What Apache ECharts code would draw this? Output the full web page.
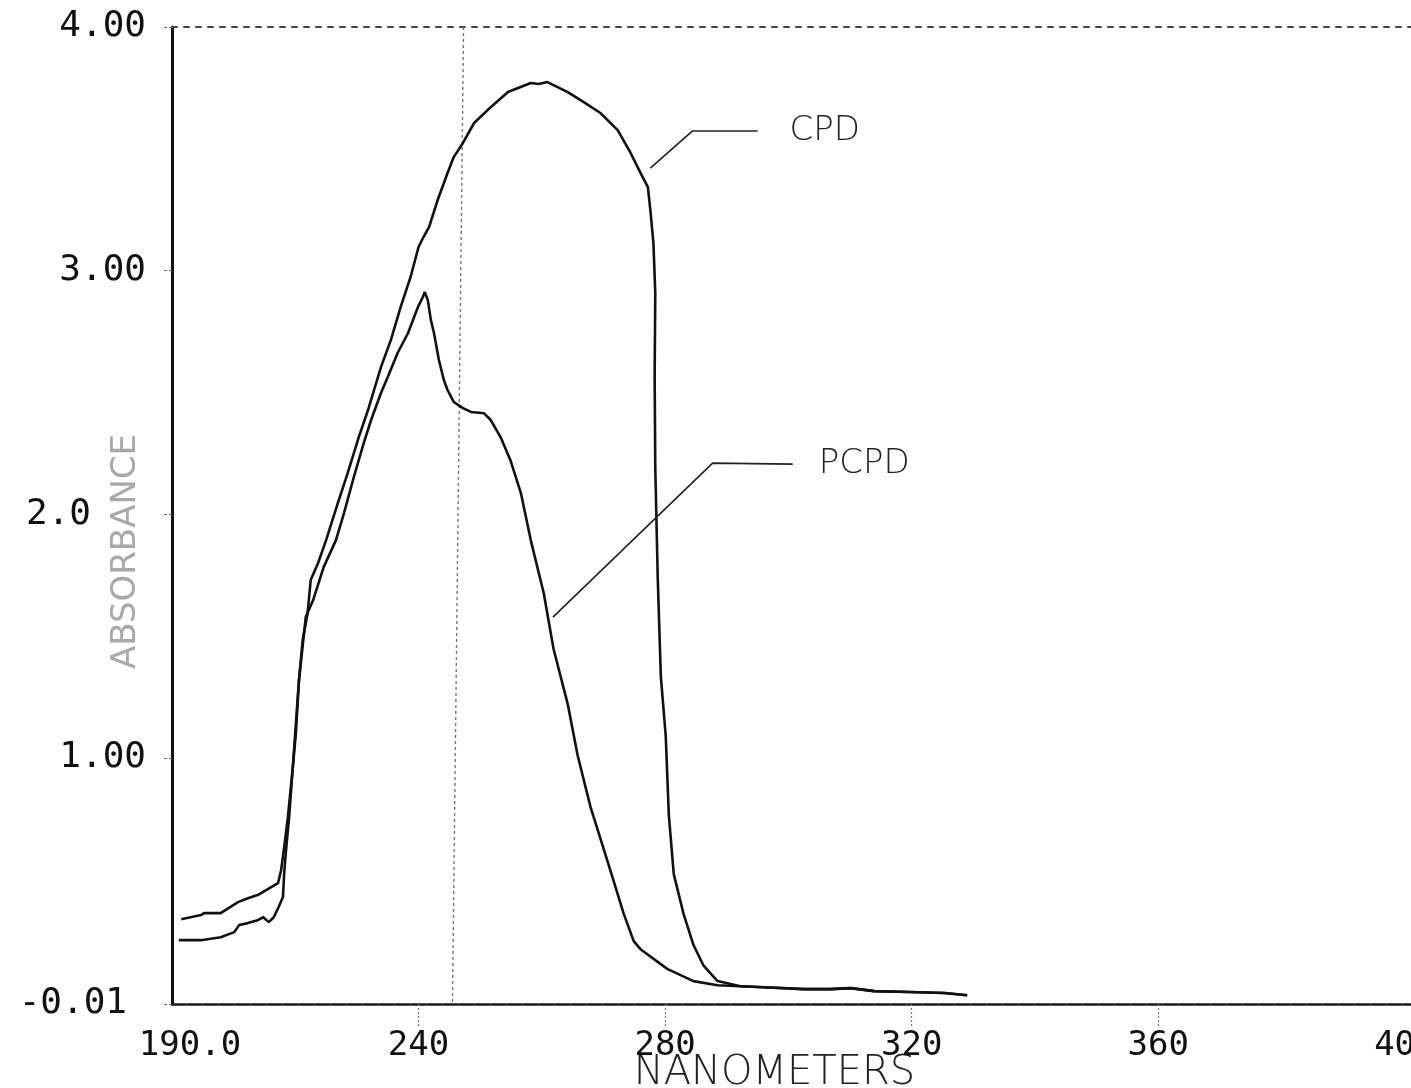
<!DOCTYPE html>
<html>
<head>
<meta charset="utf-8">
<script src="https://cdn.jsdelivr.net/npm/echarts@6/dist/echarts.min.js"></script>
<style>
html,body{margin:0;padding:0;background:#fff;overflow:hidden;}
#c{width:1411px;height:1088px;}
</style>
</head>
<body>
<div id="c"></div>
<script>
// ---- data (wavelength in nm, absorbance) ----
const seriesNames = ['CPD', 'PCPD'];

const cpdNm = [201.5,204.7,205.2,207.9,210.7,212.3,213.9,216.1,217.2,217.7,218.2,218.8,219.6,220.1,220.6,221.2,222.0,222.5,223.7,225.0,226.9,228.5,230.3,231.8,233.9,235.5,237.1,238.7,240.0,240.8,241.7,243.1,244.7,245.7,247.2,249.0,251.2,254.5,258.2,259.5,260.9,264.2,266.8,269.5,272.3,274.4,276.0,277.2,277.6,278.1,278.4,278.3,278.4,278.8,279.3,280.1,280.6,281.4,283.0,284.6,286.2,288.5,292.2,296.0,302.6,306.8,310.1,313.9,319.6,325.3,329.0];
const cpdAbs = [0.338,0.355,0.363,0.363,0.408,0.424,0.437,0.470,0.486,0.539,0.634,0.757,0.962,1.102,1.319,1.484,1.594,1.730,1.800,1.894,2.046,2.169,2.317,2.428,2.604,2.715,2.851,2.974,3.097,3.138,3.179,3.290,3.401,3.466,3.524,3.606,3.659,3.733,3.770,3.766,3.774,3.733,3.692,3.647,3.577,3.483,3.401,3.343,3.249,3.113,2.908,2.563,2.194,1.738,1.336,1.089,0.765,0.523,0.359,0.232,0.149,0.084,0.063,0.059,0.051,0.051,0.055,0.043,0.039,0.035,0.026];

const pcpdNm = [201.1,204.7,207.9,210.1,210.9,212.3,213.9,214.8,215.7,216.5,217.3,218.0,218.2,218.5,219.0,219.6,220.6,221.7,222.9,224.6,226.6,227.9,229.5,231.1,232.3,233.9,235.0,236.6,238.3,239.9,240.7,241.0,241.5,242.0,242.5,243.3,244.1,244.7,245.7,247.2,248.5,250.6,251.7,253.3,254.9,256.6,258.2,260.3,261.9,264.2,265.8,267.9,270.7,273.3,274.9,276.0,280.4,284.6,288.5,292.2,296.0,302.6,306.8,310.1,313.9,319.6,325.3,329.0];
const pcpdAbs = [0.252,0.252,0.264,0.285,0.314,0.322,0.334,0.346,0.326,0.346,0.388,0.429,0.527,0.622,0.757,0.962,1.319,1.578,1.648,1.783,1.894,2.005,2.153,2.292,2.387,2.498,2.563,2.662,2.744,2.851,2.892,2.912,2.879,2.797,2.744,2.633,2.551,2.510,2.461,2.436,2.420,2.415,2.387,2.317,2.222,2.087,1.894,1.677,1.447,1.221,1.011,0.798,0.572,0.359,0.248,0.215,0.133,0.084,0.067,0.063,0.059,0.051,0.051,0.055,0.043,0.039,0.035,0.026];

// annotation leader lines (nm, absorbance)
const cpdLeaderNm = [277.6, 284.4, 295.0];
const cpdLeaderAbs = [3.421, 3.573, 3.573];
const pcpdLeaderNm = [261.8, 287.7, 300.7];
const pcpdLeaderAbs = [1.578, 2.210, 2.206];

// vertical reference line
const refLineNm = [247.3, 245.5];
const refLineAbs = [4.00, -0.01];

// axis ticks / labels
const xTickValues = [200, 240, 280, 320, 360, 400];
const xTickLabels = ['190.0', '240', '280', '320', '360', '400'];
const xTickMarks = [240, 280, 320, 360];
const yTickValues = [-0.01, 1, 2, 3, 4];
const yTickLabels = ['-0.01', '1.00', '2.0', '3.00', '4.00'];

const zip = (a, b) => a.map((v, i) => [v, b[i]]);
const idxOf = (arr, v) => arr.findIndex(t => Math.abs(t - v) < 1e-6);

const monoFont = "'DejaVu Sans Mono', 'Liberation Mono', monospace";
const sansFont = "'DejaVu Sans', 'Noto Sans', sans-serif";

const chart = echarts.init(document.getElementById('c'), null, { renderer: 'canvas' });

chart.setOption({
  animation: false,
  backgroundColor: '#ffffff',
  grid: { left: 172, right: 0, top: 27, bottom: 84, containLabel: false, outerBoundsMode: 'none' },
  xAxis: [
    {
      type: 'value', min: 200, max: 401, position: 'bottom',
      axisLine: { show: true, onZero: false, lineStyle: { color: '#1a1a1a', width: 2.5, type: [14, 2] } },
      axisTick: { show: true, customValues: xTickMarks, length: 22, inside: false,
        lineStyle: { color: '#777', width: 1.2, type: [2, 2] } },
      axisLabel: {
        customValues: xTickValues,
        fontFamily: monoFont, fontSize: 34, color: '#111', margin: 25,
        formatter: function (v) {
          const i = idxOf(xTickValues, v);
          const t = i >= 0 ? xTickLabels[i] : '';
          return i === 0 ? '{first|' + t + '}' : t;
        },
        rich: { first: { fontFamily: monoFont, fontSize: 34, color: '#111', padding: [0, 0, 0, 36] } }
      },
      splitLine: { show: false },
      name: 'NANOMETERS', nameLocation: 'middle', nameGap: 50, nameMoveOverlap: false,
      nameTextStyle: { fontFamily: sansFont, fontSize: 40, color: '#222', fontWeight: 'lighter', padding: [0, 34, 0, 0] }
    },
    {
      type: 'value', min: 200, max: 401, position: 'top',
      axisLine: { show: true, onZero: false, lineStyle: { color: '#444', width: 2, type: [5, 7] } },
      axisTick: { show: false }, axisLabel: { show: false }, splitLine: { show: false }
    }
  ],
  yAxis: {
    type: 'value', min: -0.01, max: 4,
    axisLine: { show: true, onZero: false, lineStyle: { color: '#111', width: 3 } },
    axisTick: { show: true, customValues: yTickValues, length: 8, lineStyle: { color: '#666', width: 1.2, type: [3, 2] } },
    axisLabel: {
      customValues: yTickValues,
      fontFamily: monoFont, fontSize: 36, color: '#111', margin: 26,
      formatter: function (v) {
        const i = idxOf(yTickValues, v);
        if (i < 0) return '';
        const t = yTickLabels[i];
        if (i === 0) return '{low|' + t + '}';
        if (i === 2) return '{mid|' + t + '}';
        return t;
      },
      rich: {
        low: { fontFamily: monoFont, fontSize: 36, color: '#111', padding: [0, 19, 0, 0] },
        mid: { fontFamily: monoFont, fontSize: 36, color: '#111', padding: [0, 55, 0, 0] }
      }
    },
    splitLine: { show: false },
    name: 'ABSORBANCE', nameLocation: 'middle', nameRotate: 90, nameGap: 29, nameMoveOverlap: false,
    nameTextStyle: { fontFamily: sansFont, fontSize: 34, color: '#a8a8a8', padding: [0, 72, 0, 0] }
  },
  series: [
    {
      name: seriesNames[0], type: 'line', xAxisIndex: 0, showSymbol: false, symbol: 'none',
      data: zip(cpdNm, cpdAbs),
      lineStyle: { color: '#111', width: 2.6 }, z: 3
    },
    {
      name: seriesNames[1], type: 'line', xAxisIndex: 0, showSymbol: false, symbol: 'none',
      data: zip(pcpdNm, pcpdAbs),
      lineStyle: { color: '#111', width: 2.6 }, z: 3
    },
    {
      name: seriesNames[0] + ' label', type: 'line', xAxisIndex: 0, symbol: 'none',
      data: zip(cpdLeaderNm, cpdLeaderAbs),
      lineStyle: { color: '#222', width: 1.6 },
      endLabel: { show: true, formatter: seriesNames[0], distance: 32,
        fontFamily: sansFont, fontSize: 34, color: '#222', fontWeight: 'lighter' }
    },
    {
      name: seriesNames[1] + ' label', type: 'line', xAxisIndex: 0, symbol: 'none',
      data: zip(pcpdLeaderNm, pcpdLeaderAbs),
      lineStyle: { color: '#222', width: 1.6 },
      endLabel: { show: true, formatter: seriesNames[1], distance: 26,
        fontFamily: sansFont, fontSize: 34, color: '#222', fontWeight: 'lighter' }
    },
    {
      name: 'reference', type: 'line', xAxisIndex: 0, symbol: 'none',
      data: zip(refLineNm, refLineAbs),
      lineStyle: { color: '#777', width: 1.4, type: [3, 3] }, z: 1
    }
  ]
});
</script>
</body>
</html>
